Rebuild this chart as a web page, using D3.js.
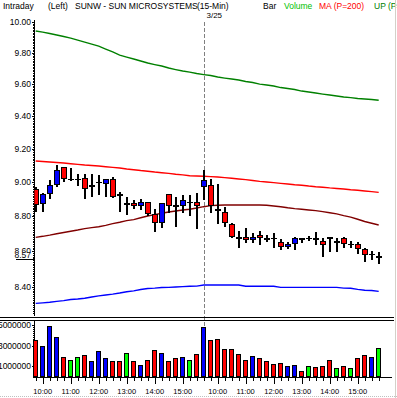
<!DOCTYPE html>
<html lang="en">
<head>
<meta charset="UTF-8">
<title>SUNW Intraday</title>
<script src="https://d3js.org/d3.v7.min.js"></script>
<style>
  body { margin: 0; background: #fff; }
  svg text { font-family: "Liberation Sans", Arial, sans-serif; }
</style>
</head>
<body>
<svg id="chart"></svg>
<script>
// ---- data ----
var dates = ["3/24", "3/25"];
var dayStart = 24; // first bar of 3/25
var times = ["09:45","10:00","10:15","10:30","10:45","11:00","11:15","11:30","11:45","12:00","12:15","12:30",
             "12:45","13:00","13:15","13:30","13:45","14:00","14:15","14:30","14:45","15:00","15:15","15:30",
             "09:30","09:45","10:00","10:15","10:30","10:45","11:00","11:15","11:30","11:45","12:00","12:15",
             "12:30","12:45","13:00","13:15","13:30","13:45","14:00","14:15","14:30","14:45","15:00","15:15",
             "15:30","15:45"];
var opens  = [8.954,8.876,8.934,8.989,9.086,9.018,9.018,9.024,8.977,8.998,8.993,9.018,8.925,8.872,8.872,8.860,8.882,
              8.813,8.765,8.930,8.861,8.860,8.883,8.882,8.974,8.983,8.838,8.823,8.755,8.678,8.679,8.666,8.691,8.671,
              8.675,8.651,8.628,8.645,8.671,8.674,8.672,8.653,8.678,8.654,8.674,8.639,8.639,8.611,8.583,8.569];
var highs  = [8.969,8.936,9.015,9.100,9.088,9.086,9.047,9.047,9.051,9.041,9.018,9.028,8.940,8.911,8.895,8.899,8.883,
              8.842,8.875,8.933,8.914,8.924,8.924,8.934,9.071,9.016,8.989,8.852,8.759,8.714,8.731,8.702,8.717,8.693,
              8.702,8.670,8.654,8.679,8.677,8.689,8.712,8.674,8.678,8.677,8.679,8.660,8.654,8.620,8.603,8.594];
var lows   = [8.827,8.827,8.901,8.971,9.000,9.006,8.977,8.901,8.914,8.924,8.911,8.907,8.827,8.810,8.842,8.837,8.801,
              8.711,8.730,8.819,8.740,8.821,8.801,8.727,8.895,8.821,8.755,8.740,8.677,8.620,8.649,8.649,8.636,8.654,
              8.620,8.607,8.611,8.607,8.649,8.658,8.637,8.569,8.597,8.597,8.620,8.620,8.583,8.540,8.550,8.531];
var closes = [8.866,8.930,8.983,9.071,9.022,9.018,9.018,8.962,8.981,8.999,9.016,8.918,8.924,8.872,8.860,8.882,8.819,
              8.765,8.872,8.860,8.860,8.895,8.883,8.860,9.012,8.860,8.837,8.765,8.683,8.677,8.666,8.679,8.677,8.670,
              8.674,8.626,8.641,8.674,8.670,8.674,8.671,8.640,8.677,8.654,8.645,8.639,8.617,8.579,8.584,8.569];
var volumes = [3540000,2960000,4900000,3800000,1860000,1600000,1860000,2060000,1500000,2380000,1700000,1410000,
               1500000,2250000,1500000,1020000,1600000,2540000,2250000,1500000,1700000,1800000,1600000,2180000,
               4780000,3450000,3610000,2640000,2640000,2180000,1570000,1960000,1770000,1470000,1180000,1280000,
               990000,1090000,500000,990000,890000,990000,1570000,800000,990000,800000,1770000,2060000,1860000,2740000];
var upBand = [9.941,9.934,9.925,9.915,9.905,9.895,9.882,9.869,9.856,9.843,9.824,9.805,9.785,9.772,9.760,9.747,9.734,
              9.724,9.715,9.702,9.692,9.683,9.676,9.667,9.660,9.654,9.645,9.638,9.632,9.626,9.616,9.610,9.600,9.594,
              9.588,9.578,9.572,9.566,9.556,9.550,9.544,9.537,9.531,9.525,9.519,9.515,9.509,9.506,9.503,9.498];
var maLine = [9.126,9.123,9.120,9.117,9.114,9.110,9.106,9.102,9.099,9.096,9.092,9.088,9.084,9.078,9.074,9.069,9.065,
              9.060,9.056,9.052,9.047,9.043,9.038,9.037,9.035,9.033,9.031,9.027,9.023,9.019,9.015,9.010,9.005,9.001,
              8.997,8.993,8.989,8.985,8.982,8.977,8.973,8.970,8.966,8.963,8.960,8.955,8.952,8.948,8.944,8.940];
var midLine = [8.679,8.685,8.692,8.700,8.707,8.714,8.721,8.729,8.735,8.740,8.748,8.758,8.766,8.775,8.781,8.792,8.802,
               8.810,8.818,8.825,8.831,8.837,8.841,8.848,8.856,8.862,8.864,8.866,8.866,8.866,8.866,8.866,8.866,8.864,
               8.860,8.856,8.850,8.845,8.841,8.837,8.833,8.827,8.821,8.814,8.804,8.795,8.783,8.770,8.760,8.750];
var dnBand = [8.310,8.313,8.316,8.321,8.325,8.331,8.334,8.338,8.345,8.351,8.356,8.361,8.367,8.374,8.379,8.386,8.392,
              8.394,8.397,8.398,8.400,8.402,8.404,8.405,8.411,8.411,8.411,8.411,8.411,8.411,8.404,8.404,8.404,8.404,
              8.404,8.398,8.398,8.398,8.398,8.398,8.398,8.398,8.398,8.398,8.394,8.393,8.387,8.382,8.381,8.376];
var priceTicks = [10.0, 9.8, 9.6, 9.4, 9.2, 9.0, 8.8, 8.6, 8.4];
var volTicks = [1000000, 3000000, 5000000];

var width = 397, height = 398;
var svg = d3.select("#chart").attr("width", width).attr("height", height);
svg.append("rect").attr("width", width).attr("height", height).attr("fill", "#fff");

var n = closes.length;
var axisX = 34.5;

// scales
var x = d3.scaleBand().domain(d3.range(n)).range([32.2, 32.2 + 7 * n]);
var xc = function(i) { return x(i) + x.bandwidth() / 2; };
var y = d3.scaleLog().domain([8.2414, 10.053]).range([316, 14]);
var yv = d3.scaleLinear().domain([0, 5000000]).range([376.5, 325]);

// header
var header = svg.append("g").attr("font-size", "8.5px");
[["Intraday", 3, "#000"], ["(Left)", 48, "#000"], ["SUNW - SUN MICROSYSTEMS", 75, "#000"], ["(15-Min)", 197, "#000"],
 ["Bar", 263, "#000"], ["Volume", 284, "#00c000"], ["MA (P=200)", 319, "#ff0000"], ["UP (P=20)", 374, "#008000"]]
  .forEach(function(h) {
    header.append("text").attr("x", h[1]).attr("y", 9).attr("fill", h[2]).text(h[0]);
  });

// clip for plot
svg.append("clipPath").attr("id", "plot").append("rect")
  .attr("x", axisX).attr("y", 14).attr("width", 360).attr("height", 302);

// main price axis
var yAxis = svg.append("g").attr("shape-rendering", "crispEdges");
yAxis.append("line").attr("x1", axisX).attr("x2", axisX).attr("y1", 20).attr("y2", 316).attr("stroke", "#000");
d3.range(826, 1001).forEach(function(c) {
  var v = c / 100;
  yAxis.append("line").attr("x1", axisX - 1.5).attr("x2", axisX)
    .attr("y1", Math.round(y(v)) + 0.5).attr("y2", Math.round(y(v)) + 0.5).attr("stroke", "#000");
});
priceTicks.forEach(function(v) {
  yAxis.append("line").attr("x1", axisX - 3).attr("x2", axisX)
    .attr("y1", Math.round(y(v)) + 0.5).attr("y2", Math.round(y(v)) + 0.5).attr("stroke", "#000");
  svg.append("text").attr("x", 31).attr("y", y(v) + 3).attr("text-anchor", "end")
    .attr("font-size", "8.5px").text(v.toFixed(2));
});

// last price marker
var last = closes[n - 1];
svg.append("rect").attr("x", 15).attr("y", y(last) - 4.5).attr("width", 18).attr("height", 7).attr("fill", "#fff");
svg.append("text").attr("x", 31).attr("y", y(last) + 1.5).attr("text-anchor", "end")
  .attr("font-size", "8.5px").text(last.toFixed(2));
svg.append("line").attr("x1", 16).attr("x2", axisX).attr("y1", Math.round(y(last)) + 2.5).attr("y2", Math.round(y(last)) + 2.5)
  .attr("stroke", "#000").attr("shape-rendering", "crispEdges");

// day separator
var sepX = Math.round(xc(dayStart)) + 0.5;
svg.append("line").attr("x1", sepX).attr("x2", sepX).attr("y1", 22).attr("y2", 329)
  .attr("stroke", "#808080").attr("stroke-dasharray", "4,2");
svg.append("text").attr("x", sepX + 2).attr("y", 18).attr("font-size", "8px").text(dates[1]);

// indicator lines
var plot = svg.append("g").attr("clip-path", "url(#plot)");
var line = d3.line().x(function(d, i) { return xc(i); }).y(function(d) { return y(d); });
[[upBand, "#008000"], [maLine, "#ff0000"], [midLine, "#800000"], [dnBand, "#0000ff"]].forEach(function(s) {
  plot.append("path").attr("d", line(s[0])).attr("fill", "none").attr("stroke", s[1]).attr("stroke-width", 1.4);
});

// candles
var dir = function(i) { return closes[i] > opens[i] ? "up" : closes[i] < opens[i] ? "dn" : "eq"; };
var fillOf = { up: "#0000ff", dn: "#ff0000", eq: "#000" };
var candles = plot.selectAll(".candle").data(d3.range(n)).enter().append("g").attr("shape-rendering", "crispEdges");
candles.append("line")
  .attr("x1", function(i) { return Math.round(xc(i)); })
  .attr("x2", function(i) { return Math.round(xc(i)); })
  .attr("y1", function(i) { return y(highs[i]); })
  .attr("y2", function(i) { return y(lows[i]); })
  .attr("stroke", "#000").attr("stroke-width", 2);
candles.append("rect")
  .attr("x", function(i) { return Math.round(xc(i)) - 2.5; })
  .attr("y", function(i) { return y(Math.max(opens[i], closes[i])); })
  .attr("width", 5)
  .attr("height", function(i) { return Math.max(0.5, Math.abs(y(opens[i]) - y(closes[i]))); })
  .attr("fill", function(i) { return fillOf[dir(i)]; })
  .attr("stroke", "#000");

// volume panel separators
svg.append("line").attr("x1", 0).attr("x2", 394).attr("y1", 317.5).attr("y2", 317.5).attr("stroke", "#000").attr("shape-rendering", "crispEdges");
svg.append("line").attr("x1", 0).attr("x2", 394).attr("y1", 320.5).attr("y2", 320.5).attr("stroke", "#000").attr("shape-rendering", "crispEdges");

// volume axis
var vAxis = svg.append("g").attr("shape-rendering", "crispEdges");
vAxis.append("line").attr("x1", axisX).attr("x2", axisX).attr("y1", 321).attr("y2", 377).attr("stroke", "#000");
d3.range(0, 26).forEach(function(k) {
  var v = k * 200000;
  vAxis.append("line").attr("x1", axisX - 1.5).attr("x2", axisX)
    .attr("y1", Math.round(yv(v)) + 0.5).attr("y2", Math.round(yv(v)) + 0.5).attr("stroke", "#000");
});
volTicks.forEach(function(v) {
  vAxis.append("line").attr("x1", axisX - 3).attr("x2", axisX)
    .attr("y1", Math.round(yv(v)) + 0.5).attr("y2", Math.round(yv(v)) + 0.5).attr("stroke", "#000");
  svg.append("text").attr("x", 31).attr("y", yv(v) + 3).attr("text-anchor", "end")
    .attr("font-size", "8.5px").text(String(v));
});

// volume bars
var volFill = { up: "#0000ff", dn: "#ff0000", eq: "#00ff00" };
svg.append("g").attr("shape-rendering", "crispEdges").selectAll("rect").data(volumes).enter().append("rect")
  .attr("x", function(d, i) { return Math.round(xc(i)) - 2.5; })
  .attr("y", function(d) { return yv(d); })
  .attr("width", 4)
  .attr("height", function(d) { return yv(0) - yv(d); })
  .attr("fill", function(d, i) { return volFill[dir(i)]; })
  .attr("stroke", "#000");

// time axis
var tAxis = svg.append("g").attr("shape-rendering", "crispEdges");
tAxis.append("line").attr("x1", 33).attr("x2", 392).attr("y1", 377.5).attr("y2", 377.5).attr("stroke", "#000").attr("stroke-width", 1.5);
times.forEach(function(t, i) {
  var hour = t.slice(3) === "00";
  var tx = Math.round(xc(i)) + 0.5;
  tAxis.append("line").attr("x1", tx).attr("x2", tx).attr("y1", 377).attr("y2", hour ? 384 : 381).attr("stroke", "#000");
  if (hour) {
    svg.append("text").attr("x", xc(i)).attr("y", 394).attr("text-anchor", "middle")
      .attr("font-size", "7.5px").text(t);
  }
});

// window border
svg.append("line").attr("x1", 395.5).attr("x2", 395.5).attr("y1", 0).attr("y2", 398).attr("stroke", "#d4d0c8");
svg.append("line").attr("x1", 0).attr("x2", 397).attr("y1", 396.5).attr("y2", 396.5).attr("stroke", "#c0c0c0").attr("stroke-dasharray", "1,1");
</script>
</body>
</html>
